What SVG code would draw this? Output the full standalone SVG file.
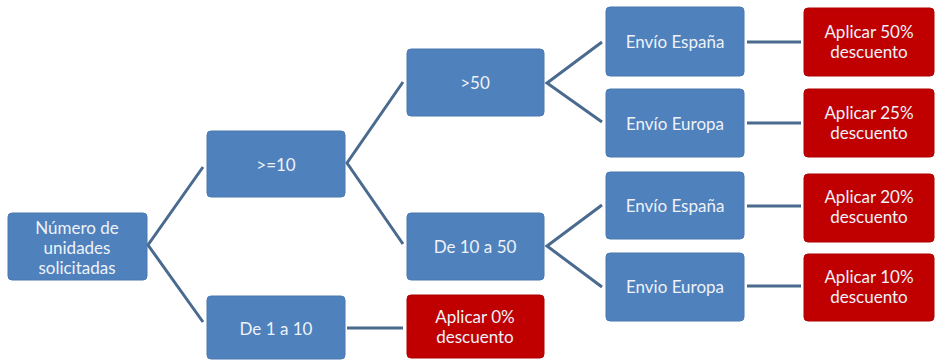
<svg xmlns="http://www.w3.org/2000/svg" width="936" height="360" viewBox="0 0 936 360">
<style>
.b{fill:#4F81BD;stroke:#4A78B0;stroke-width:1}
.r{fill:#C00000;stroke:#B00000;stroke-width:1}
text{font-family:Lato,"Open Sans","Liberation Sans",sans-serif;font-size:17px;fill:#EEF2F8;text-anchor:middle;dominant-baseline:central}
.c path{fill:none;stroke:#4A6A90;stroke-width:3}
</style>
<rect width="936" height="360" fill="#FFFFFF"/>
<g class="c" id="connectors">
<path d="M203,167 L148,245 L203,322"/>
<path d="M403,82 L347,163 L403,244"/>
<path d="M347,328 L403,328"/>
<path d="M602,42 L547,83 L602,122"/>
<path d="M602,205 L547,246 L602,287"/>
<path d="M747,42 L801,42"/>
<path d="M747,123 L801,123"/>
<path d="M747,206 L801,206"/>
<path d="M747,286 L801,286"/>
</g>
<g id="root"><rect class="b" x="8" y="213" width="139" height="67" rx="4"/><text x="77" y="227">Número de</text><text x="77" y="247">unidades</text><text x="77" y="267">solicitadas</text></g>
<g id="ge10"><rect class="b" x="207" y="131" width="138" height="66" rx="4"/><text x="276" y="164">&gt;=10</text></g>
<g id="de1a10"><rect class="b" x="207" y="296" width="138" height="63" rx="4"/><text x="276" y="328">De 1 a 10</text></g>
<g id="apl0"><rect class="r" x="407" y="295" width="137" height="63" rx="4"/><text x="475" y="316">Aplicar 0%</text><text x="475" y="336">descuento</text></g>
<g id="gt50"><rect class="b" x="407" y="49" width="137" height="67" rx="4"/><text x="475" y="82">&gt;50</text></g>
<g id="de10a50"><rect class="b" x="407" y="213" width="137" height="67" rx="4"/><text x="475" y="246">De 10 a 50</text></g>
<g id="env1"><rect class="b" x="606" y="7" width="138" height="69" rx="4"/><text x="675" y="41">Envío España</text></g>
<g id="env2"><rect class="b" x="606" y="89" width="138" height="68" rx="4"/><text x="675" y="123">Envío Europa</text></g>
<g id="env3"><rect class="b" x="606" y="172" width="138" height="67" rx="4"/><text x="675" y="205">Envío España</text></g>
<g id="env4"><rect class="b" x="606" y="253" width="138" height="68" rx="4"/><text x="675" y="286">Envio Europa</text></g>
<g id="apl50"><rect class="r" x="804" y="8" width="130" height="68" rx="4"/><text x="869" y="31">Aplicar 50%</text><text x="869" y="51">descuento</text></g>
<g id="apl25"><rect class="r" x="804" y="89" width="130" height="68" rx="4"/><text x="869" y="112">Aplicar 25%</text><text x="869" y="132">descuento</text></g>
<g id="apl20"><rect class="r" x="804" y="174" width="130" height="68" rx="4"/><text x="869" y="196">Aplicar 20%</text><text x="869" y="216">descuento</text></g>
<g id="apl10"><rect class="r" x="804" y="254" width="130" height="67" rx="4"/><text x="869" y="276">Aplicar 10%</text><text x="869" y="296">descuento</text></g>
</svg>
